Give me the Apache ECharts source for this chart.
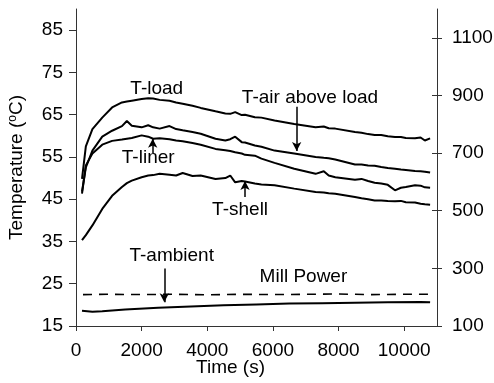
<!DOCTYPE html>
<html>
<head>
<meta charset="utf-8">
<script src="https://cdn.jsdelivr.net/npm/echarts@6/dist/echarts.min.js"></script>
<style>html,body{margin:0;padding:0;background:#fff}#c{width:494px;height:383px}</style>
</head>
<body>
<div id="c"></div>
<script>
// ---- data ----
const time = [183,300,500,800,1100,1400,1550,1700,2000,2200,2350,2550,2850,3050,3250,3550,3800,4250,4550,4700,4850,5050,5150,5450,5650,6050,6650,7300,7550,7700,7900,8500,8700,8900,9100,9300,9500,9720,9900,10050,10330,10500,10630,10790];
const tLoad = [49.8,57.5,61.6,64.3,66.7,67.9,68.1,68.3,68.7,68.9,68.8,68.5,68.3,67.9,67.6,67.1,66.6,65.8,65.3,65.2,65.6,64.9,65.0,64.4,64.3,63.6,62.8,62.0,62.2,61.8,61.7,60.9,60.7,60.4,60.2,60.2,59.9,59.7,59.7,59.5,59.4,59.6,58.9,59.4];
const tAir = [46.8,52.5,56.5,59.8,61.2,62.3,63.5,62.4,62.0,62.5,62.0,61.7,62.3,61.6,61.3,60.9,60.5,59.3,58.9,59.2,59.8,58.5,58.4,57.7,57.4,56.5,55.8,55.0,54.8,54.7,54.4,53.2,53.2,53.0,52.9,52.6,52.4,52.2,52.0,51.9,51.7,51.6,51.5,51.3];
const tLiner = [46.3,53.0,55.8,57.9,58.8,59.1,59.3,59.5,60.1,59.8,59.3,59.4,59.2,58.9,58.7,58.3,57.9,56.9,56.6,56.4,56.1,55.8,55.5,55.3,54.6,53.6,52.2,51.0,51.6,50.6,50.2,49.6,49.8,49.3,48.9,48.7,48.4,47.1,47.7,47.9,48.3,48.2,47.8,47.7];
const tShell = [35.3,36.5,38.8,42.7,45.8,47.9,48.8,49.4,50.2,50.6,50.7,51.0,50.8,50.6,51.2,50.5,50.6,49.8,50.0,50.6,49.0,49.3,49.2,48.7,48.5,48.3,47.5,46.7,46.6,46.4,46.3,45.5,45.2,45.0,44.7,44.7,44.6,44.5,44.6,44.3,44.2,43.9,43.8,43.7];
const ambTime = [183,500,800,1500,2500,3500,4500,5500,6500,7500,8500,9500,10500,10790];
const tAmbient = [18.6,18.4,18.5,18.9,19.3,19.6,19.9,20.1,20.3,20.4,20.5,20.6,20.7,20.6];
const millTime = [213,1000,2000,3000,4000,5000,6000,7000,8000,9000,10000,10755];
const millPower = [209,210,209,210,208,210,209,210,211,209,210,210];
const xTicks = [0,2000,4000,6000,8000,10000];
const yTicks = [15,25,35,45,55,65,75,85];
const y2Ticks = [100,300,500,700,900,1100];
// annotations: text, time, temperature
const labelText = ['T-load','T-air above load','T-liner','T-shell','T-ambient','Mill Power'];
const labelT = [2460,7130,2200,5000,2915,6930];
const labelV = [71.1,69.1,54.8,42.5,31.5,26.6];
// arrows: time, from temperature, to temperature (head at "to")
const arrowT = [6724,2337,5150,2690];
const arrowFrom = [66.9,55.9,45.5,28.6];
const arrowTo = [56.4,59.3,49.3,20.6];

const FONT = 'Liberation Sans, Arial, sans-serif';
const FS = 19;
const AX = '#333';
const plain = v => String(v);
const pairs = (xs, ys) => xs.map((x, i) => [x, ys[i]]);
const lineSeries = (name, xs, ys, extra) => Object.assign({
  name, type: 'line', xAxisIndex: 0, yAxisIndex: 0, data: pairs(xs, ys),
  showSymbol: false, symbol: 'none', smooth: false, animation: false,
  lineStyle: { color: '#000', width: 2 }
}, extra || {});

const chart = echarts.init(document.getElementById('c'), null, { renderer: 'canvas' });
chart.setOption({
  backgroundColor: '#fff',
  animation: false,
  grid: { left: 76, right: 57, top: 9, bottom: 57, outerBoundsMode: 'none', containLabel: false },
  xAxis: [{
    type: 'value', min: 0, max: 11000,
    name: 'Time (s)', nameLocation: 'middle', nameGap: 32, nameMoveOverlap: false,
    nameTextStyle: { fontFamily: FONT, fontSize: FS, color: '#000', padding: [0, 52, 0, 0] },
    axisLine: { show: true, lineStyle: { color: AX, width: 1 } },
    axisTick: { show: true, inside: false, length: 5, lineStyle: { color: AX }, customValues: xTicks },
    axisLabel: { fontFamily: FONT, fontSize: FS, color: '#000', margin: 15, formatter: plain, customValues: xTicks },
    splitLine: { show: false }
  }],
  yAxis: [{
    type: 'value', min: 15, max: 90, position: 'left',
    name: 'Temperature ({s|o}C)', nameLocation: 'middle', nameGap: 49, nameRotate: 90, nameMoveOverlap: false,
    nameTextStyle: { fontFamily: FONT, fontSize: FS, color: '#000',
      rich: { s: { fontFamily: FONT, fontSize: 12, color: '#000', verticalAlign: 'top', padding: [0, 0, 8, 0] } } },
    axisLine: { show: true, lineStyle: { color: AX, width: 1 } },
    axisTick: { show: true, inside: false, length: 7, lineStyle: { color: AX }, customValues: yTicks },
    axisLabel: { fontFamily: FONT, fontSize: FS, color: '#000', margin: 13, formatter: plain, customValues: yTicks },
    splitLine: { show: false }
  }, {
    type: 'value', min: 100, max: 1200, position: 'right',
    axisLine: { show: true, lineStyle: { color: AX, width: 1 } },
    axisTick: { show: true, inside: false, length: 5, lineStyle: { color: AX }, customValues: y2Ticks },
    axisLabel: { fontFamily: FONT, fontSize: FS, color: '#000', margin: 15, formatter: plain, customValues: y2Ticks },
    splitLine: { show: false }
  }, {
    type: 'value', min: 100, max: 1200, position: 'right',
    axisLine: { show: false },
    axisTick: { show: true, inside: true, length: 5, lineStyle: { color: AX }, customValues: y2Ticks },
    axisLabel: { show: false },
    splitLine: { show: false }
  }],
  series: [
    lineSeries('T-load', time, tLoad),
    lineSeries('T-air above load', time, tAir),
    lineSeries('T-liner', time, tLiner),
    lineSeries('T-shell', time, tShell),
    lineSeries('T-ambient', ambTime, tAmbient),
    lineSeries('Mill Power', millTime, millPower, {
      yAxisIndex: 1, lineStyle: { color: '#000', width: 1.6, type: [9, 7] }
    }),
    {
      type: 'scatter', xAxisIndex: 0, yAxisIndex: 0, symbolSize: 0, animation: false, silent: true,
      data: labelText.map((s, i) => ({ name: s, value: [labelT[i], labelV[i]] })),
      itemStyle: { color: '#000', opacity: 1 },
      label: { show: true, position: [0, 0], align: 'center', verticalAlign: 'middle', formatter: '{b}',
        fontFamily: FONT, fontSize: FS, color: '#000', opacity: 1, textBorderWidth: 0 },
      markLine: {
        silent: true, animation: false, symbol: ['none', 'arrow'], symbolSize: [7, 9],
        label: { show: false },
        lineStyle: { color: '#000', width: 1.5, type: 'solid', opacity: 1 },
        data: arrowT.map((t, i) => [{ coord: [t, arrowFrom[i]] }, { coord: [t, arrowTo[i]] }])
      }
    }
  ]
});
</script>
</body>
</html>
